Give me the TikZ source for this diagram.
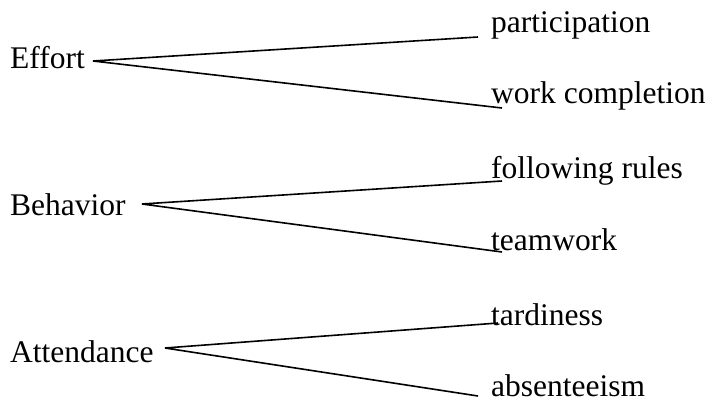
\documentclass[tikz,border=0pt]{standalone}
\usepackage{fontspec}
\setmainfont{Liberation Serif}
\usepackage{tikz}

\begin{document}
\begin{tikzpicture}[x=1pt,y=-1pt,line join=bevel,
    lbl/.style={anchor=base west,inner sep=0pt,font=\fontsize{31.5}{38}\selectfont},
    twig/.style={line width=1.6pt}]
    %%
    \useasboundingbox (0,0) rectangle (712,402);
    \node[lbl] (effort) at (10,68) {Effort};
      \node[lbl] (behav) at (10,215) {Behavior};
      \node[lbl] (attend) at (10,362) {Attendance};
      \node[lbl] (partic) at (491,32) {participation};
      \node[lbl] (workc) at (491,103) {work completion};
      \node[lbl] (rules) at (491,178) {following rules};
      \node[lbl] (team) at (491,250) {teamwork};
      \node[lbl] (tardy) at (491,325) {tardiness};
      \node[lbl] (absent) at (491,396) {absenteeism};
    %
      \coordinate (effort-r) at (93,61);
      \coordinate (behav-r) at (142,204);
      \coordinate (attend-r) at (165,348);
      \coordinate (partic-l) at (478,37);
      \coordinate (workc-l) at (502,108);
      \coordinate (rules-l) at (502,181);
      \coordinate (team-l) at (502,252);
      \coordinate (tardy-l) at (498,323);
      \coordinate (absent-l) at (478,396);
    %
      \draw [twig] (partic-l) -- (effort-r) -- (workc-l);
      \draw [twig] (rules-l) -- (behav-r) -- (team-l);
      \draw [twig] (tardy-l) -- (attend-r) -- (absent-l);
    %
    \end{tikzpicture}
\end{document}
